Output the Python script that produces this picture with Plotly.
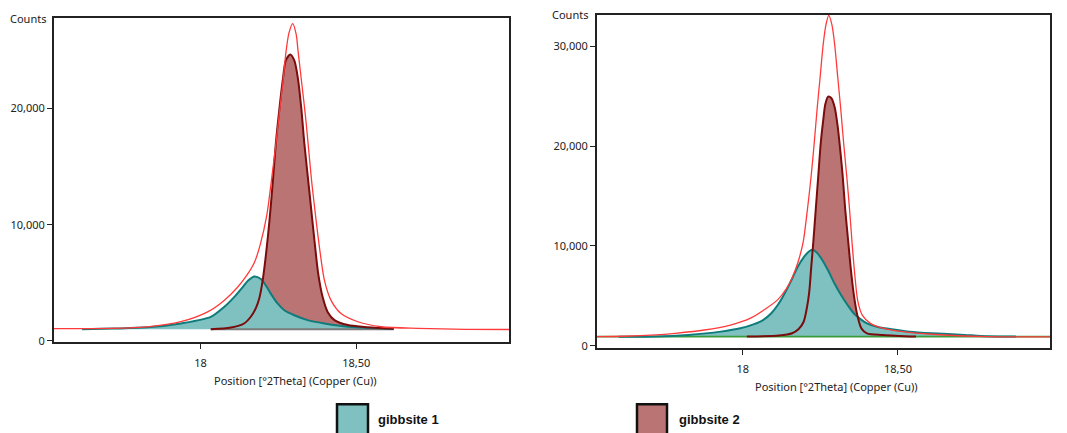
import plotly.graph_objects as go

# ---------------- data ----------------
# Left panel
L_bg = 1000
L_red_x = [17.53, 17.65, 17.75, 17.83, 17.937, 18.023, 18.076, 18.119, 18.150, 18.173, 18.192, 18.213,
           18.227, 18.240, 18.252, 18.264, 18.275, 18.284, 18.296, 18.307, 18.313, 18.325, 18.337,
           18.347, 18.357, 18.369, 18.382, 18.398, 18.419, 18.451, 18.505, 18.580, 18.698, 18.85, 18.99]
L_red_y = [1050, 1060, 1100, 1200, 1650, 2495, 3485, 4616, 5700, 6750, 8300, 10840,
           13665, 16495, 19320, 22150, 24980, 26500, 27300, 26390, 24980, 22150, 19320,
           16495, 13665, 10840, 8010, 5180, 3485, 2355, 1650, 1220, 1080, 1000, 980]

L_g2_x = [18.033, 18.098, 18.140, 18.162, 18.178, 18.189, 18.199, 18.210, 18.221, 18.232, 18.242,
          18.253, 18.264, 18.274, 18.288, 18.301, 18.312, 18.323, 18.333, 18.344, 18.355, 18.366,
          18.378, 18.392, 18.408, 18.430, 18.473, 18.526, 18.62]
L_g2_y = [1000, 1150, 1500, 2100, 2850, 3700, 5100, 7400, 10250, 13650, 17050,
          19900, 22430, 24130, 24640, 24130, 22700, 20170, 17060, 14230, 11400, 8575,
          5750, 3770, 2495, 1790, 1365, 1200, 1050]

L_g1_x = [17.62, 17.72, 17.83, 17.937, 18.033, 18.076, 18.108, 18.135, 18.153, 18.173, 18.194, 18.210,
          18.226, 18.248, 18.269, 18.301, 18.344, 18.398, 18.473, 18.580, 18.62]
L_g1_y = [1000, 1060, 1165, 1506, 2070, 2920, 3770, 4616, 5200, 5550, 5324, 4760,
          4050, 3200, 2637, 2210, 1790, 1506, 1220, 1080, 1030]

# Right panel
R_bg = 920
R_red_x = [17.53, 17.62, 17.719, 17.782, 17.876, 17.960, 18.023, 18.075, 18.112, 18.140, 18.160, 18.178,
           18.194, 18.208, 18.220, 18.230, 18.239, 18.249, 18.259, 18.268, 18.277, 18.287, 18.296,
           18.306, 18.316, 18.325, 18.335, 18.344, 18.352, 18.361, 18.371, 18.385, 18.411, 18.453,
           18.516, 18.610, 18.788, 18.99]
R_red_y = [930, 960, 1091, 1256, 1587, 2082, 2743, 3735, 4600, 5700, 6900, 8400,
           10300, 13600, 16950, 20254, 23558, 26862, 30166, 32149, 33074, 32149, 30166,
           26862, 23558, 20254, 16950, 13646, 10342, 7038, 4395, 3074, 2248, 1752,
           1422, 1158, 926, 900]

R_g2_x = [18.013, 18.117, 18.159, 18.180, 18.196, 18.206, 18.214, 18.220, 18.227, 18.235, 18.243,
          18.251, 18.259, 18.266, 18.275, 18.285, 18.296, 18.306, 18.314, 18.322, 18.330, 18.340,
          18.348, 18.358, 18.369, 18.382, 18.400, 18.453, 18.558]
R_g2_y = [926, 1025, 1256, 1686, 2413, 3735, 5388, 7699, 10342, 13646, 16950,
          20254, 22567, 24218, 24946, 24814, 23889, 21906, 19594, 16950, 13646, 10342,
          7699, 5056, 3074, 1752, 1256, 1091, 926]

R_g1_x = [17.60, 17.719, 17.824, 17.929, 17.992, 18.034, 18.065, 18.091, 18.112, 18.133, 18.154, 18.175,
          18.196, 18.212, 18.224, 18.238, 18.254, 18.275, 18.296, 18.317, 18.338, 18.358, 18.379,
          18.400, 18.432, 18.474, 18.537, 18.610, 18.715, 18.767, 18.88]
R_g1_y = [920, 926, 1091, 1422, 1752, 2149, 2578, 3239, 4065, 5150, 6400, 7800,
          8856, 9418, 9616, 9352, 8691, 7534, 6212, 5056, 4065, 3239, 2677,
          2248, 1918, 1686, 1422, 1256, 1091, 992, 930]

R_base_x = [17.53, 18.99]
R_base_y = [R_bg, R_bg]

X_TICKS = [18, 18.5]
X_TICKTEXT = ["18", "18,50"]
L_YTICKS = [0, 10000, 20000]
R_YTICKS = [0, 10000, 20000, 30000]
NAMES = ["gibbsite 1", "gibbsite 2"]

# ---------------- styling ----------------
W, H = 1067, 433
TEAL_FILL = "#7fc1c0"
TEAL_LINE = "#0f7c7b"
DRED_FILL = "#ba7474"
DRED_LINE = "#7a0c0c"
RED_LINE = "#ff3a3a"
GREEN = "#3c9c3c"
AX = "#222222"
FONT = "Noto Sans"

fig = go.Figure()


def add_phase(x, y, bg, fill, xa, ya):
    fig.add_trace(go.Scatter(x=x, y=[bg] * len(x), mode="lines", line=dict(width=0),
                             hoverinfo="skip", showlegend=False, xaxis=xa, yaxis=ya))
    fig.add_trace(go.Scatter(x=x, y=y, mode="lines", fill="tonexty", fillcolor=fill,
                             line=dict(width=0, shape="spline", smoothing=0.8),
                             hoverinfo="skip", showlegend=False, xaxis=xa, yaxis=ya))


def add_line(x, y, color, width, xa, ya):
    fig.add_trace(go.Scatter(x=x, y=y, mode="lines",
                             line=dict(color=color, width=width, shape="spline", smoothing=0.8),
                             showlegend=False, xaxis=xa, yaxis=ya))


# left panel
add_phase(L_g2_x, L_g2_y, L_bg, DRED_FILL, "x", "y")
add_phase(L_g1_x, L_g1_y, L_bg, TEAL_FILL, "x", "y")
fig.add_trace(go.Scatter(x=[L_g2_x[0], L_g2_x[-1]], y=[L_bg, L_bg], mode="lines",
                         line=dict(color="#7a7a7a", width=2), showlegend=False, xaxis="x", yaxis="y"))
add_line(L_g1_x, L_g1_y, TEAL_LINE, 2, "x", "y")
add_line(L_g2_x, L_g2_y, DRED_LINE, 2, "x", "y")
add_line(L_red_x, L_red_y, RED_LINE, 1.3, "x", "y")

# right panel
add_phase(R_g2_x, R_g2_y, R_bg, DRED_FILL, "x2", "y2")
add_phase(R_g1_x, R_g1_y, R_bg, TEAL_FILL, "x2", "y2")
add_line(R_base_x, R_base_y, GREEN, 1.6, "x2", "y2")
add_line(R_g1_x, R_g1_y, TEAL_LINE, 2, "x2", "y2")
add_line(R_g2_x, R_g2_y, DRED_LINE, 2, "x2", "y2")
add_line(R_red_x, R_red_y, RED_LINE, 1.3, "x2", "y2")

axis_common = dict(showline=True, mirror=True, linewidth=2, linecolor=AX, showgrid=False,
                   zeroline=False, ticks="outside", ticklen=5, tickwidth=1.3, tickcolor=AX,
                   tickfont=dict(family=FONT, size=11, color=AX))

fig.update_layout(
    width=W, height=H, margin=dict(l=0, r=0, t=0, b=0),
    paper_bgcolor="white", plot_bgcolor="white", showlegend=False,
    xaxis=dict(domain=[54 / W, 509 / W], range=[17.53, 18.99], tickvals=X_TICKS,
               ticktext=X_TICKTEXT, anchor="y", ticklabelstandoff=5, **axis_common),
    yaxis=dict(domain=[1 - 347 / H, 1 - 18 / H], range=[-110, 27806], tickvals=L_YTICKS,
               tickformat=",d", anchor="x", **axis_common),
    xaxis2=dict(domain=[597 / W, 1050 / W], range=[17.53, 18.99], tickvals=X_TICKS,
                ticktext=X_TICKTEXT, anchor="y2", ticklabelstandoff=5, **axis_common),
    yaxis2=dict(domain=[1 - 353 / H, 1 - 15 / H], range=[-227, 33140], tickvals=R_YTICKS,
                tickformat=",d", anchor="x2", **axis_common),
)

ann_font = dict(family=FONT, size=11, color=AX)
fig.add_annotation(text="Counts", x=48 / W, y=1 - 19 / H, xref="paper", yref="paper",
                   xanchor="right", yanchor="middle", showarrow=False, font=ann_font)
fig.add_annotation(text="Counts", x=590 / W, y=1 - 15 / H, xref="paper", yref="paper",
                   xanchor="right", yanchor="middle", showarrow=False, font=ann_font)
fig.add_annotation(text="Position [°2Theta] (Copper (Cu))", x=295 / W, y=1 - 386 / H,
                   xref="paper", yref="paper", xanchor="center", yanchor="middle",
                   showarrow=False, font=ann_font)
fig.add_annotation(text="Position [°2Theta] (Copper (Cu))", x=836 / W, y=1 - 392 / H,
                   xref="paper", yref="paper", xanchor="center", yanchor="middle",
                   showarrow=False, font=ann_font)

# legend swatches + labels
for (x0, x1, tx), name, col in zip([(337, 368, 376), (637, 667, 677)], NAMES, [TEAL_FILL, DRED_FILL]):
    fig.add_shape(type="rect", xref="paper", yref="paper", x0=x0 / W, x1=x1 / W,
                  y0=1 - 445 / H, y1=1 - 410 / H, fillcolor=col, line=dict(color="#111", width=2.5))
    fig.add_annotation(text="<b>%s</b>" % name, x=tx / W, y=1 - 425 / H, xref="paper", yref="paper",
                       xanchor="left", yanchor="middle", showarrow=False,
                       font=dict(family="Liberation Sans", size=13, color="#111"))

fig.write_html("out.html")
